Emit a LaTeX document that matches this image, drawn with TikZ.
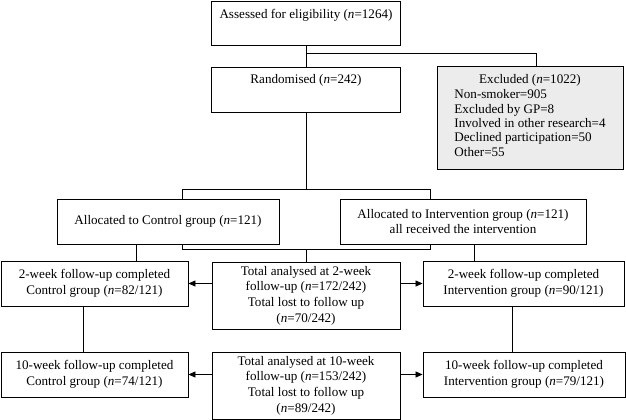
\documentclass[tikz,border=0pt]{standalone}
\usepackage{fontspec}
\setmainfont{Liberation Serif}
\usetikzlibrary{arrows.meta,calc}
\begin{document}
\begin{tikzpicture}[x=1pt,y=-1pt,
 frame/.style={draw=black, line width=0.9pt, inner sep=0pt, font=\fontsize{13.1}{15.6}\selectfont},
 cbox/.style={frame, align=center},
 conn/.style={draw=black, line width=0.8pt},
 arr/.style={conn, -{Triangle[length=7pt,width=6pt]}}]
\useasboundingbox (0,0) rectangle (626,420);

% top part
\node[frame, minimum width=189pt, text height=18pt, text depth=26pt] (A) at (306,23) {Assessed for eligibility (\textit{n}=1264)};
\node[frame, minimum width=189pt, text height=17pt, text depth=28pt] (R) at (306,89.5) {Randomised (\textit{n}=242)};
\node[frame, fill=gray!15, minimum width=186pt, text height=18pt, text depth=85pt,
      font=\fontsize{13.1}{14.5}\selectfont] (E) at (530,117.5)
  {\begin{tabular}[t]{@{}l@{}}\multicolumn{1}{@{}c@{}}{Excluded (\textit{n}=1022)}\\
   Non-smoker=905\\ Excluded by GP=8\\ Involved in other research=4\\ Declined participation=50\\ Other=55\end{tabular}};

% allocation
\node[cbox, minimum width=222pt, minimum height=45pt] (CA) at (168,221.5) {Allocated to Control group (\textit{n}=121)};
\node[cbox, minimum width=246pt, minimum height=45pt] (IA) at (463,221.5) {Allocated to Intervention group (\textit{n}=121)\\ all received the intervention};

% 2-week
\node[cbox, minimum width=187pt, minimum height=45pt] (C2) at (94.5,283.5) {2-week follow-up completed\\ Control group (\textit{n}=82/121)};
\node[cbox, minimum width=188pt, minimum height=67pt] (T2) at (306,295.5) {Total analysed at 2-week\\ follow-up (\textit{n}=172/242)\\ Total lost to follow up\\ (\textit{n}=70/242)};
\node[cbox, minimum width=201pt, minimum height=45pt] (I2) at (523.5,283.5) {2-week follow-up completed\\ Intervention group (\textit{n}=90/121)};

% 10-week
\node[cbox, minimum width=187pt, minimum height=45pt] (C10) at (94.5,374.5) {10-week follow-up completed\\ Control group (\textit{n}=74/121)};
\node[cbox, minimum width=188pt, minimum height=67pt] (T10) at (306,385.5) {Total analysed at 10-week\\ follow-up (\textit{n}=153/242)\\ Total lost to follow up\\ (\textit{n}=89/242)};
\node[cbox, minimum width=202pt, minimum height=45pt] (I10) at (524,374.5) {10-week follow-up completed\\ Intervention group (\textit{n}=79/121)};

% junction coordinates
\coordinate (jE) at (536,53);
\coordinate (sL) at (182,189);
\coordinate (sR) at (430,189);
\coordinate (mL) at (182,249);
\coordinate (mR) at (430,249);
\coordinate (vC1) at (136,0);
\coordinate (vI1) at (474,0);
\coordinate (vC2) at (83,0);
\coordinate (vI2) at (512,0);

% connectors
\draw[conn] (A.south) -- (R.north);
\draw[conn] (A.south |- jE) -- (jE) -- (jE |- E.north);
\draw[conn] (R.south) -- (R.south |- sL);
\draw[conn] (sL |- CA.north) -- (sL) -- (sR) -- (sR |- IA.north);
\draw[conn] (mL |- CA.south) -- (mL) -- (mR) -- (mR |- IA.south);
\draw[conn] (T2.north |- mL) -- (T2.north);
\draw[conn] (vC1 |- CA.south) -- (vC1 |- C2.north);
\draw[conn] (vI1 |- IA.south) -- (vI1 |- I2.north);
\draw[conn] (vC2 |- C2.south) -- (vC2 |- C10.north);
\draw[conn] (vI2 |- I2.south) -- (vI2 |- I10.north);
\draw[arr] (T2.west |- C2.east) -- (C2.east);
\draw[arr] (T2.east |- I2.west) -- (I2.west);
\draw[arr] (T10.west |- C10.east) -- (C10.east);
\draw[arr] (T10.east |- I10.west) -- (I10.west);
\end{tikzpicture}
\end{document}
